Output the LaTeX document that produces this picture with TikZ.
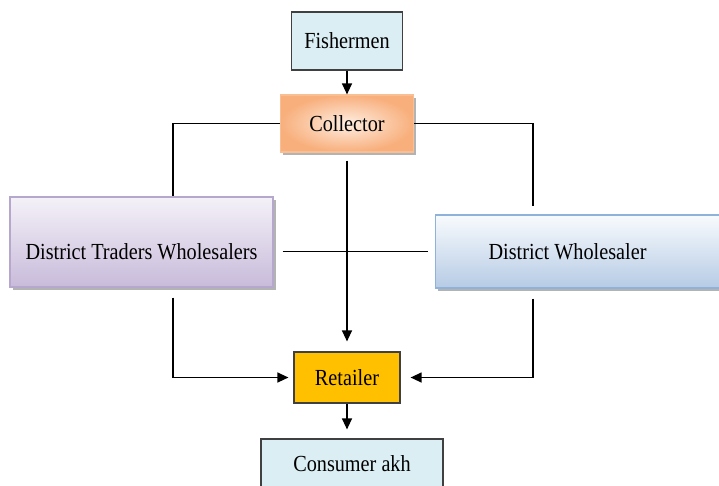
\documentclass[tikz,border=0pt]{standalone}
\usepackage{fontspec}
\setmainfont{Liberation Serif}[FakeStretch=0.88]
\usetikzlibrary{arrows.meta,shadows}
\definecolor{paleblue}{HTML}{DAEEF3}
\definecolor{gold}{HTML}{FFC000}
\definecolor{orangeout}{HTML}{F8AF7C}
\definecolor{orangein}{HTML}{FEEEE2}
\definecolor{orangeline}{HTML}{F9BE92}
\definecolor{lavtop}{HTML}{F4F1F8}
\definecolor{lavbot}{HTML}{C8BBDA}
\definecolor{lavline}{HTML}{B6A7CD}
\definecolor{bluetop}{HTML}{F8FBFD}
\definecolor{bluebot}{HTML}{B6CBE5}
\definecolor{blueline}{HTML}{8FB2DB}
\begin{document}
\begin{tikzpicture}[x=1pt,y=-1pt,line width=1.3pt,
  >={Triangle[length=11pt,width=10pt]},
  box/.style={rectangle,inner sep=0pt,font=\fontsize{23}{26}\selectfont},
  plain/.style={box,draw=black!75,line width=1.2pt},
  shade/.style={box,line width=1.2pt,
    drop shadow={shadow xshift=2.5pt,shadow yshift=-3pt,fill=black!50,opacity=.6}}]
\useasboundingbox (0,0) rectangle (719,485);
\node[plain,fill=paleblue,minimum width=111,minimum height=58] (fish) at (347,41) {Fishermen};
\node[shade,draw=orangeline,inner color=orangein,outer color=orangeout,
  minimum width=133,minimum height=57] (coll) at (347,123.5) {Collector};
\node[shade,draw=lavline,top color=lavtop,bottom color=lavbot,minimum width=263,
  text height=62.6pt,text depth=27.4pt] (dtw) at (141.5,242) {District Traders Wholesalers};
\node[shade,draw=blueline,top color=bluetop,bottom color=bluebot,anchor=west,
  minimum height=73,inner xsep=53] (dw) at (435,251.5) {\makebox[194pt][l]{District Wholesaler}};
\node[plain,fill=gold,minimum width=106,minimum height=51] (ret) at (347,377.5) {Retailer};
\node[plain,fill=paleblue,minimum width=182,minimum height=50] (cons) at (352,464) {Consumer akh};
\coordinate (lx) at (173,0);
\coordinate (rx) at (533,0);
\draw[->] (fish.south) -- (coll.north);
\draw (coll.west) -| (lx |- dtw.north);
\draw[shorten >=8] (coll.east) -| (rx |- dw.north);
\draw[->,shorten <=8,shorten >=10] (coll.south) -- (ret.north);
\draw[shorten <=9,shorten >=7] (dw.west -| dtw.east) -- (dw.west);
\draw[->,shorten <=10,shorten >=5] (lx |- dtw.south) |- (ret.west);
\draw[->,shorten <=10,shorten >=10] (rx |- dw.south) |- (ret.east);
\draw[->,shorten >=9] (ret.south) -- (ret.south |- cons.north);
\end{tikzpicture}
\end{document}
